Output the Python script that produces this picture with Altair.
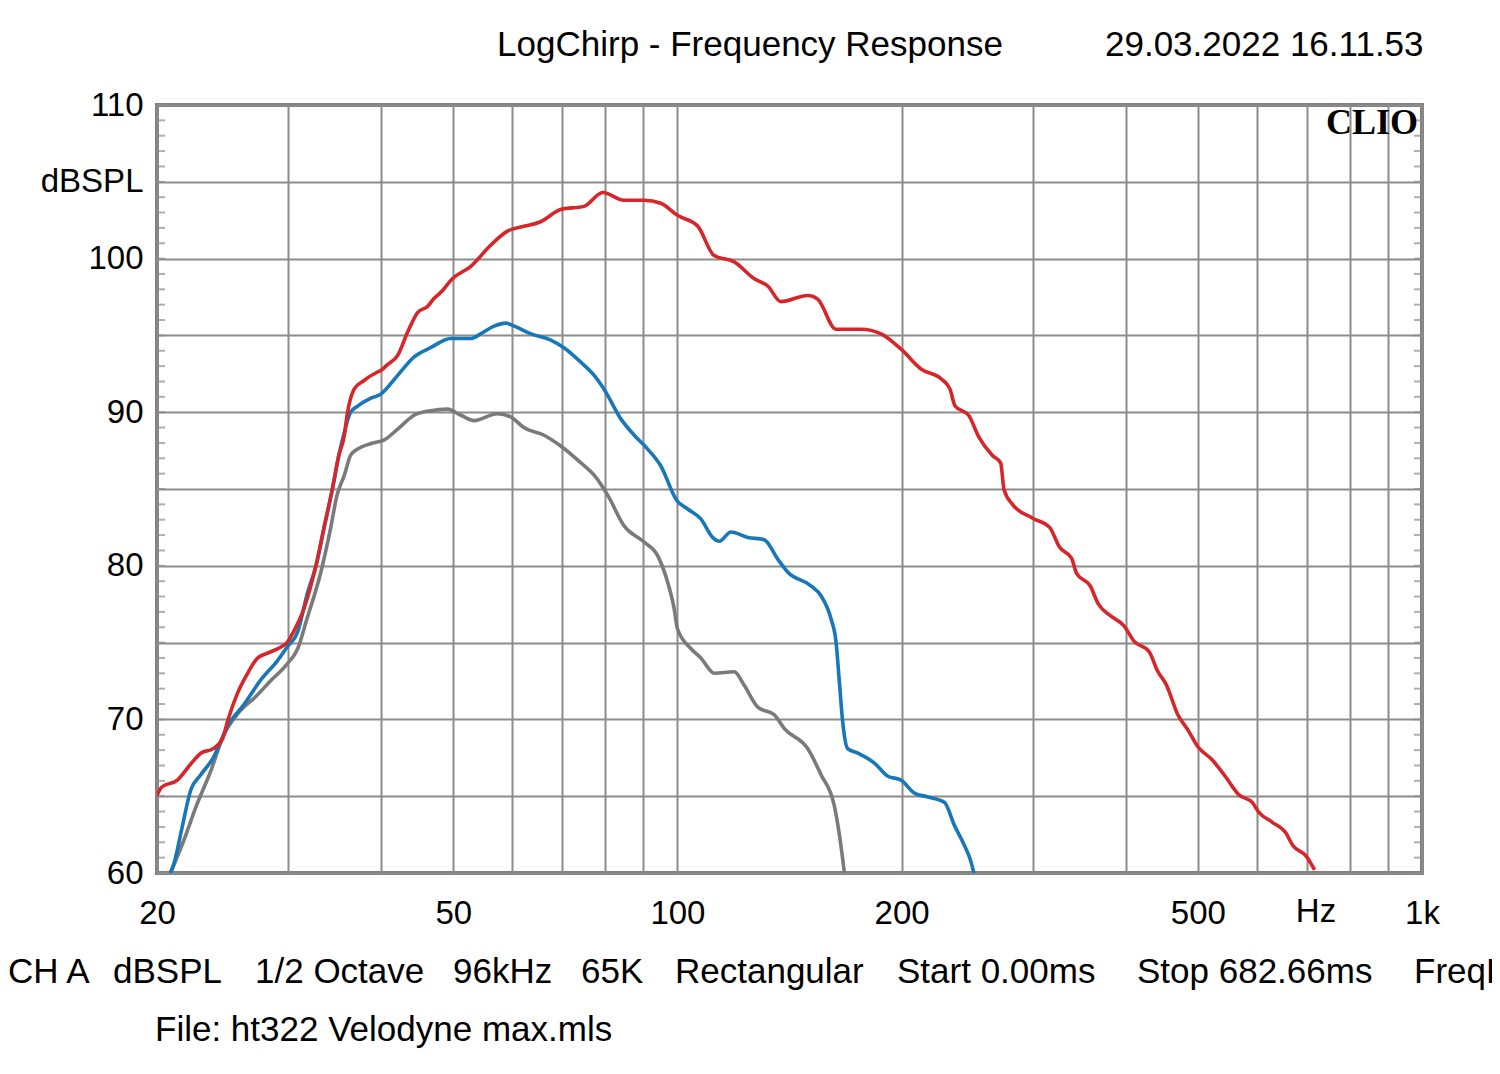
import altair as alt
import pandas as pd

# ---------------- data ----------------
red_f = [20.0, 20.3, 21.3, 22.2, 22.9, 23.8, 24.5, 24.9, 25.6, 26.4,
         27.3, 28.1, 29.3, 29.9, 30.5, 31.5, 32.8, 33.5, 34.4, 35.1,
         35.7, 36.0, 36.8, 37.9, 39.5, 39.9, 40.8, 42.1, 43.4, 44.8,
         46.2, 47.1, 48.1, 49.9, 52.8, 56.2, 59.2, 62.2, 65.5, 69.7,
         74.9, 79.4, 84.7, 90.2, 95.0, 100.1, 106.5, 112.0, 119.1, 126.7,
         132.3, 137.7, 149.7, 154.4, 163.3, 176.5, 187.7, 199.7, 212.6, 226.4,
         232.3, 236.0, 246.1, 253.9, 264.7, 271.7, 274.6, 281.8, 300.0, 316.1,
         326.1, 338.3, 343.6, 358.3, 367.7, 381.4, 397.7, 410.3, 430.1, 441.4,
         453.1, 470.0, 485.0, 500.4, 521.8, 544.1, 567.3, 591.5, 603.9, 629.6,
         656.5, 670.4, 699.0, 717.4]
red_db = [65.05, 65.6, 66.05, 67.1, 67.8, 68.1, 68.75, 69.95, 71.6, 72.9,
          74.0, 74.3, 74.7, 75.0, 75.7, 77.2, 80.3, 82.4, 85.0, 87.2,
          88.5, 89.8, 91.5, 92.05, 92.6, 92.7, 93.1, 93.7, 95.2, 96.5,
          96.9, 97.4, 97.8, 98.7, 99.5, 100.9, 101.8, 102.1, 102.4, 103.2,
          103.4, 104.3, 103.8, 103.8, 103.6, 102.8, 102.1, 100.2, 99.8, 98.7,
          98.2, 97.2, 97.6, 97.35, 95.4, 95.4, 95.1, 94.1, 92.8, 92.15,
          91.5, 90.4, 89.8, 88.4, 87.2, 86.7, 84.95, 84.0, 83.1, 82.5,
          81.2, 80.5, 79.5, 78.7, 77.5, 76.75, 76.1, 75.1, 74.4, 73.15,
          72.3, 70.3, 69.3, 68.2, 67.4, 66.3, 65.1, 64.6, 63.95, 63.3,
          62.6, 61.8, 61.1, 60.2]

blue_f = [20.85, 21.1, 21.6, 22.2, 22.9, 23.8, 24.9, 26.2, 27.6, 29.0,
          29.9, 30.9, 31.8, 32.8, 33.5, 34.4, 35.1, 35.7, 36.4, 37.2,
          38.7, 39.9, 42.1, 44.3, 46.6, 49.6, 52.8, 54.4, 56.7, 58.8,
          60.4, 63.6, 67.6, 70.4, 74.2, 77.3, 79.7, 84.0, 87.5, 91.2,
          95.0, 99.8, 103.2, 107.5, 111.5, 113.8, 118.0, 124.3, 130.8, 136.3,
          140.6, 151.1, 155.9, 160.8, 163.3, 165.0, 166.7, 169.3, 174.7, 183.9,
          191.7, 199.7, 208.1, 216.9, 228.3, 235.5, 242.9, 248.0, 250.1]
blue_db = [60.0, 60.7, 62.9, 65.4, 66.4, 67.5, 69.6, 71.0, 72.6, 73.8,
           74.7, 75.7, 78.1, 80.25, 82.4, 85.0, 87.2, 88.7, 90.0, 90.4,
           90.9, 91.15, 92.4, 93.6, 94.2, 94.8, 94.8, 95.1, 95.6, 95.8,
           95.6, 95.1, 94.7, 94.2, 93.25, 92.4, 91.5, 89.55, 88.5, 87.6,
           86.5, 84.25, 83.7, 83.05, 81.85, 81.6, 82.2, 81.85, 81.7, 80.45,
           79.6, 78.7, 78.05, 76.55, 75.05, 72.45, 69.85, 68.1, 67.8, 67.15,
           66.3, 66.05, 65.2, 64.95, 64.6, 63.1, 61.8, 60.7, 60.0]

gray_f = [20.85, 21.7, 22.6, 23.6, 24.6, 25.6, 27.3, 28.4, 29.9, 30.9,
          31.8, 33.2, 34.2, 34.9, 35.7, 36.4, 37.2, 38.7, 40.4, 42.1,
          44.3, 46.6, 49.1, 51.2, 53.3, 57.3, 59.7, 62.2, 66.2, 69.7,
          74.2, 77.3, 80.6, 84.8, 90.2, 94.1, 97.0, 99.0, 100.0, 104.3,
          107.5, 112.1, 119.2, 123.0, 128.2, 134.9, 139.2, 149.6, 155.9, 162.4,
          165.0, 167.6]
gray_db = [60.0, 62.05, 64.4, 66.6, 69.0, 70.3, 71.6, 72.5, 73.6, 74.6,
           76.55, 79.6, 82.4, 84.6, 85.9, 87.2, 87.6, 87.95, 88.2, 88.9,
           89.8, 90.1, 90.2, 89.8, 89.45, 89.9, 89.7, 89.0, 88.5, 87.8,
           86.7, 85.9, 84.6, 82.6, 81.55, 80.65, 78.95, 77.2, 75.9, 74.6,
           74.0, 73.0, 73.1, 72.2, 70.8, 70.3, 69.4, 68.1, 66.4, 64.4,
           62.5, 60.0]

x_grid = [20, 30, 40, 50, 60, 70, 80, 90, 100, 200, 300, 400, 500, 600, 700, 800, 900, 1000]
x_label_vals = [20, 50, 100, 200, 500, 1000]
x_label_txt = ["20", "50", "100", "200", "500", "1k"]
y_grid = [60, 65, 70, 75, 80, 85, 90, 95, 100, 105, 110]
y_label_vals = [60, 70, 80, 90, 100, 105, 110]
y_label_txt = ["60", "70", "80", "90", "100", "dBSPL", "110"]
y_minor = list(range(60, 111))

title_text = "LogChirp - Frequency Response"
date_text = "29.03.2022 16.11.53"
brand_text = "CLIO"
unit_text = "Hz"
footer_words = ["CH A", "dBSPL", "1/2 Octave", "96kHz", "65K", "Rectangular",
                "Start 0.00ms", "Stop 682.66ms", "FreqL"]
file_text = "File: ht322 Velodyne max.mls"

# ---------------- layout / style ----------------
W, H = 1265, 768
FONT = "Liberation Sans"
GRID = "#8c8c8c"
footer_x = [-149, -44, 98, 296, 424, 518, 740, 980, 1257]

def expr(vals, txts):
    s = "''"
    for v, t in reversed(list(zip(vals, txts))):
        s = f"datum.value == {v} ? '{t}' : ({s})"
    return s

xscale = alt.Scale(type="log", domain=[20, 1000], nice=False)
yscale = alt.Scale(domain=[60, 110], nice=False, zero=False)

xaxis = alt.Axis(values=x_grid, labelExpr=expr(x_label_vals, x_label_txt), grid=True,
                 ticks=False, domain=False, labelPadding=24, labelFontSize=33,
                 labelFont=FONT, labelColor="black", gridColor=GRID, gridWidth=2,
                 title=None, labelFlush=False, labelOverlap=False)
yaxis = alt.Axis(values=y_grid, labelExpr=expr(y_label_vals, y_label_txt), grid=True,
                 ticks=False, domain=False, labelPadding=14, labelFontSize=33,
                 labelFont=FONT, labelColor="black", gridColor=GRID, gridWidth=2,
                 title=None, labelOverlap=False)

def series_df(fs, vs):
    return pd.DataFrame({"freq": fs, "db": vs, "idx": list(range(len(fs)))})

def line(df, color):
    return alt.Chart(df).mark_line(color=color, strokeWidth=3.6, clip=True,
                                   interpolate="monotone", strokeJoin="round").encode(
        x=alt.X("freq:Q", scale=xscale, axis=xaxis),
        y=alt.Y("db:Q", scale=yscale, axis=yaxis),
        order=alt.Order("idx:Q"),
    )

gray_line = line(series_df(gray_f, gray_db), "#7a7a7a")
blue_line = line(series_df(blue_f, blue_db), "#1877b8")
red_line = line(series_df(red_f, red_db), "#d7262a")

minor_df = pd.DataFrame({"db": y_minor})
ticks_left = alt.Chart(minor_df).mark_tick(orient="horizontal", size=8, thickness=2,
                                           color=GRID).encode(
    y=alt.Y("db:Q", scale=yscale, axis=yaxis), x=alt.value(4))
ticks_right = alt.Chart(minor_df).mark_tick(orient="horizontal", size=8, thickness=2,
                                            color=GRID).encode(
    y=alt.Y("db:Q", scale=yscale, axis=yaxis), x=alt.value(W - 4))

def text(t, x, y, size=35, align="left", font=FONT, weight="normal"):
    return alt.Chart(pd.DataFrame({"t": [t]})).mark_text(
        align=align, baseline="middle", fontSize=size, font=font,
        fontWeight=weight, color="black").encode(
        text="t:N", x=alt.value(x), y=alt.value(y))

texts = [
    text(title_text, 593, -60, align="center"),
    text(date_text, 948, -60),
    text(brand_text, W - 4, 18, size=36, align="right", font="Liberation Serif", weight="bold"),
    text(unit_text, 1159, 807, size=33, align="center"),
    text(file_text, -2, 925),
]
for w, px in zip(footer_words, footer_x):
    texts.append(text(w, px, 867))

chart = alt.layer(ticks_left, ticks_right, gray_line, blue_line, red_line, *texts).properties(
    width=W, height=H,
    autosize=alt.AutoSizeParams(type="none"),
    padding={"left": 149, "top": 97, "right": 70, "bottom": 180},
    background="white",
).configure_view(stroke="#7f7f7f", strokeWidth=4)

chart.save("out.html", embed_options={"renderer": "svg", "actions": False})
